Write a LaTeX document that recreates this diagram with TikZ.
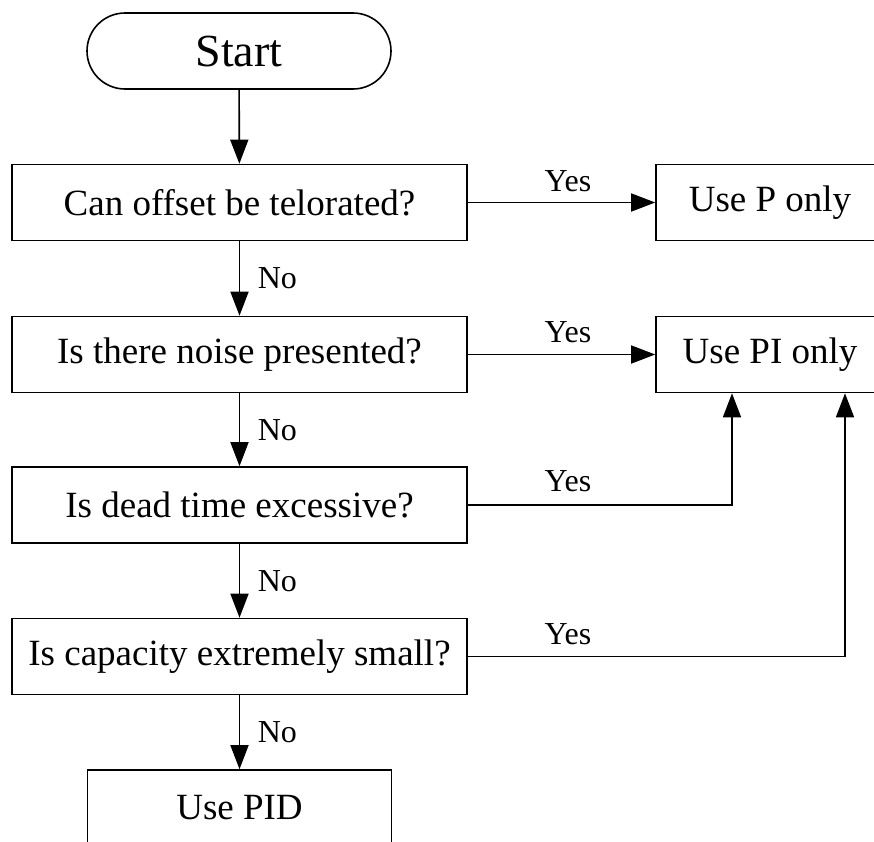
\documentclass[tikz,border=0pt]{standalone}
\usepackage{fontspec}
\setmainfont{Liberation Serif}
\usetikzlibrary{arrows.meta,shapes.misc}
\begin{document}
\begin{tikzpicture}[x=1pt,y=-1pt,
  line width=1.6pt,
  box/.style={draw,rectangle,minimum height=76pt,inner sep=0pt,font=\fontsize{37}{40}\selectfont},
  lbl/.style={font=\fontsize{32}{34}\selectfont,inner sep=0pt},
  arr/.style={-{Triangle[length=24pt,width=18pt]}}]
\useasboundingbox (0,0) rectangle (874,841);
\clip (0,0) rectangle (874,841);
\node[draw,rounded rectangle,minimum width=304pt,minimum height=76pt,inner sep=0pt,font=\fontsize{46}{48}\selectfont] (start) at (239,51) {Start};
\node[box,minimum width=455pt] (b1) at (239.5,202.5) {Can offset be telorated?};
\node[box,minimum width=455pt] (b2) at (239.5,354.5) {Is there noise presented?};
\node[box,minimum width=455pt] (b3) at (239.5,505) {Is dead time excessive?};
\node[box,minimum width=455pt] (b4) at (239.5,656.5) {Is capacity extremely small?};
\node[box,minimum width=304pt] (pid) at (239.5,808) {Use PID};
\node[box,minimum width=228pt] (p) at (770,202.5) {Use P only};
\node[box,minimum width=228pt] (pi) at (770,354.5) {Use PI only};
\coordinate (c3) at (732,505);
\coordinate (c4) at (845,656.5);
\draw[arr] (start) -- (b1);
\draw[arr] (b1) -- (b2);
\draw[arr] (b2) -- (b3);
\draw[arr] (b3) -- (b4);
\draw[arr] (b4) -- (pid);
\draw[arr] (b1) -- (p);
\draw[arr] (b2) -- (pi);
\draw[arr] (b3.east) -- (c3) -- (c3 |- pi.south);
\draw[arr] (b4.east) -- (c4) -- (c4 |- pi.south);
\node[lbl] (y1) at (568,181) {Yes};
\node[lbl] (y2) at (568,332) {Yes};
\node[lbl] (y3) at (568,481) {Yes};
\node[lbl] (y4) at (568,634) {Yes};
\node[lbl,anchor=west] (n1) at (257,278) {No};
\node[lbl,anchor=west] (n2) at (257,430) {No};
\node[lbl,anchor=west] (n3) at (257,581) {No};
\node[lbl,anchor=west] (n4) at (257,732) {No};
\end{tikzpicture}
\end{document}
